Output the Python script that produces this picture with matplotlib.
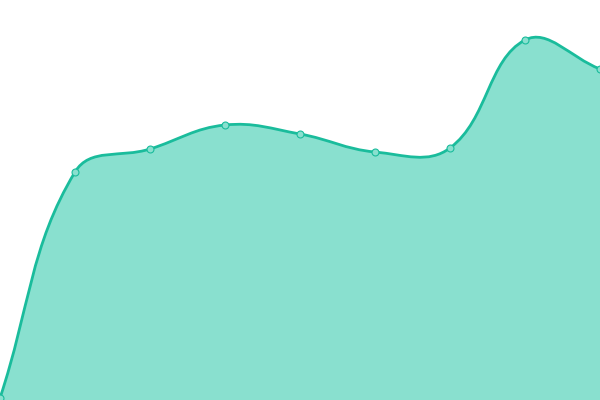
import numpy as np
import matplotlib.pyplot as plt
from matplotlib.path import Path
from matplotlib.patches import PathPatch

# values (chart units, 0 at the bottom)
labels = [0, 1, 2, 3, 4, 5, 6, 7, 8]
values = [2, 228, 251, 275, 266, 248, 252, 360, 331]

line_color = '#1abc9c'
fill_color = '#89e0cf'
tension = 0.4

fig = plt.figure(figsize=(6, 4), dpi=100)
ax = fig.add_axes([0, 0, 1, 1])
ax.set_xlim(0, 8)
ax.set_ylim(0, 400)
ax.axis('off')


def spline_path(xs, ys, t):
    # chart.js style cubic control points, worked out in pixel space
    pts = ax.transData.transform(np.column_stack([xs, ys]))
    n = len(pts)
    cps = []
    for i in range(n):
        prev = pts[max(i - 1, 0)]
        cur = pts[i]
        nxt = pts[min(i + 1, n - 1)]
        d01 = np.hypot(*(cur - prev))
        d12 = np.hypot(*(nxt - cur))
        tot = d01 + d12
        s01 = d01 / tot if tot else 0
        s12 = d12 / tot if tot else 0
        fa = t * s01
        fb = t * s12
        cps.append((cur - fa * (nxt - prev), cur + fb * (nxt - prev)))
    verts = [pts[0]]
    codes = [Path.MOVETO]
    for i in range(1, n):
        verts += [cps[i - 1][1], cps[i][0], pts[i]]
        codes += [Path.CURVE4] * 3
    inv = ax.transData.inverted()
    return inv.transform(np.array(verts)), codes


verts, codes = spline_path(labels, values, tension)

# filled area
fill_verts = list(verts) + [(labels[-1], 0), (labels[0], 0), verts[0]]
fill_codes = codes + [Path.LINETO, Path.LINETO, Path.CLOSEPOLY]
ax.add_patch(PathPatch(Path(fill_verts, fill_codes), facecolor=fill_color,
                       edgecolor='none', zorder=1))
# line
ax.add_patch(PathPatch(Path(verts, codes), facecolor='none',
                       edgecolor=line_color, linewidth=2, zorder=2,
                       capstyle='round', joinstyle='round'))
ax.plot(labels, values, 'o', markersize=5, markerfacecolor=fill_color,
        markeredgecolor=line_color, markeredgewidth=0.8, zorder=3,
        clip_on=False)

fig.savefig('out.png', dpi=100)
